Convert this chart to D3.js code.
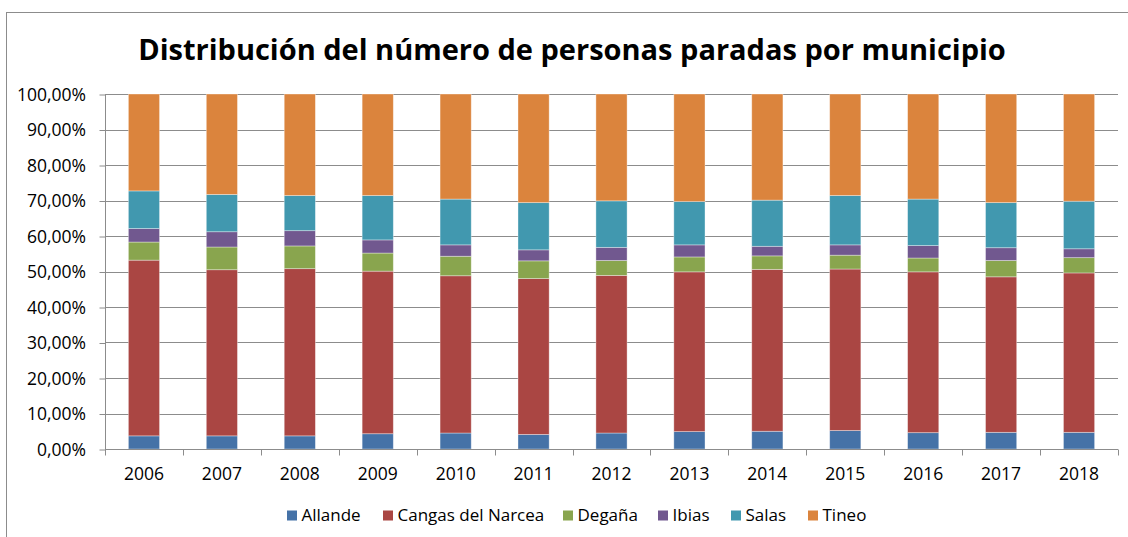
<!DOCTYPE html>
<html>
<head>
<meta charset="utf-8">
<title>Distribución del número de personas paradas por municipio</title>
<script src="https://d3js.org/d3.v7.min.js"></script>
<style>
  body { margin: 0; background: #fff; }
  text { font-family: "Open Sans", Lato, sans-serif; fill: #000; }
</style>
</head>
<body>
<script>
// data (percent of total, per year)
var years = ["2006","2007","2008","2009","2010","2011","2012","2013","2014","2015","2016","2017","2018"];
var municipios = ["Allande","Cangas del Narcea","Degaña","Ibias","Salas","Tineo"];
var allande = [3.7, 3.7, 3.7, 4.3, 4.5, 4.1, 4.5, 4.9, 5.0, 5.2, 4.6, 4.7, 4.7];
var cangas  = [49.5, 46.8, 47.1, 45.8, 44.3, 43.9, 44.4, 45.0, 45.6, 45.5, 45.3, 43.8, 44.9];
var degana  = [5.1, 6.4, 6.4, 5.1, 5.5, 5.0, 4.2, 4.2, 3.8, 3.9, 3.9, 4.6, 4.3];
var ibias   = [3.8, 4.3, 4.3, 3.7, 3.2, 3.1, 3.7, 3.4, 2.7, 2.9, 3.5, 3.6, 2.5];
var salas   = [10.6, 10.5, 9.9, 12.5, 12.9, 13.3, 13.1, 12.2, 13.0, 13.9, 13.1, 12.7, 13.4];
var tineo   = [27.3, 28.3, 28.6, 28.6, 29.6, 30.6, 30.1, 30.3, 29.9, 28.6, 29.6, 30.6, 30.2];
var yTicks = [0, 0.1, 0.2, 0.3, 0.4, 0.5, 0.6, 0.7, 0.8, 0.9, 1];
var colores = ["#4572A7","#AA4643","#89A54E","#71588F","#4198AF","#DB843D"];

var w = 1128, h = 537;
var plotLeft = 105, plotRight = 1118, plotTop = 94, plotBottom = 449;

var svg = d3.select("body").append("svg")
    .attr("width", w)
    .attr("height", h);

// outer chart border (cut off on the right and bottom like the picture)
svg.append("rect")
    .attr("x", 6.5).attr("y", 12.5)
    .attr("width", 1140).attr("height", 560)
    .attr("fill", "none").attr("stroke", "#8c8c8c").attr("stroke-width", 1);

svg.append("text")
    .attr("x", 572).attr("y", 60)
    .attr("text-anchor", "middle")
    .style("font-size", "29px").style("font-weight", "bold")
    .text("Distribución del número de personas paradas por municipio");

// build rows for the stack
var series = [allande, cangas, degana, ibias, salas, tineo];
var rows = years.map(function(y, i) {
    var r = { year: y };
    municipios.forEach(function(m, k) { r[m] = series[k][i] / 100; });
    return r;
});
var stacked = d3.stack().keys(municipios).offset(d3.stackOffsetExpand)(rows);

var x = d3.scaleBand().domain(years).range([plotLeft, plotRight]).paddingInner(0.6).paddingOuter(0.3);
var y = d3.scaleLinear().domain([0, 1]).range([plotBottom, plotTop]);
var color = d3.scaleOrdinal().domain(municipios).range(colores);

var es = d3.formatLocale({ decimal: ",", thousands: ".", grouping: [3], currency: ["", " €"] });
var pct = es.format(".2%");

// gridlines
svg.append("g").selectAll("line")
    .data(yTicks.slice(1))
    .enter().append("line")
    .attr("x1", plotLeft).attr("x2", plotRight)
    .attr("y1", function(d) { return Math.round(y(d)) + 0.5; })
    .attr("y2", function(d) { return Math.round(y(d)) + 0.5; })
    .attr("stroke", "#8c8c8c");

// y axis
var yAxis = svg.append("g")
    .attr("transform", "translate(" + (plotLeft + 0.5) + ",0.5)")
    .call(d3.axisLeft(y).tickValues(yTicks).tickFormat(pct).tickSize(6).tickPadding(13.5));
yAxis.selectAll("path, line").attr("stroke", "#8c8c8c");
yAxis.select(".domain").attr("d", "M0," + plotTop + "V" + plotBottom);
yAxis.selectAll("text").style("font-size", "17.5px").style("font-family", "'Open Sans', sans-serif").attr("fill", "#000");

// bars
svg.append("g").selectAll("g")
    .data(stacked)
    .enter().append("g")
    .attr("fill", function(d) { return color(d.key); })
    .selectAll("rect")
    .data(function(d) { return d; })
    .enter().append("rect")
    .attr("x", function(d) { return x(d.data.year); })
    .attr("y", function(d) { return y(d[1]); })
    .attr("width", x.bandwidth())
    .attr("height", function(d) { return y(d[0]) - y(d[1]); })
    .attr("stroke", "rgba(255,255,255,0.45)")
    .attr("stroke-width", 0.8);

// x axis
var step = x.step();
var xAxis = svg.append("g")
    .attr("transform", "translate(0," + (plotBottom + 0.5) + ")")
    .call(d3.axisBottom(x).tickSize(0).tickPadding(18.5));
xAxis.select(".domain").attr("stroke", "#8c8c8c").attr("d", "M" + plotLeft + ",0H" + plotRight);
xAxis.selectAll("text").style("font-size", "17.5px").style("font-family", "'Open Sans', sans-serif").attr("fill", "#000");
xAxis.selectAll("line.sep")
    .data(d3.range(years.length + 1))
    .enter().append("line")
    .attr("class", "sep")
    .attr("x1", function(i) { return Math.round(plotLeft + i * step) + 0.5; })
    .attr("x2", function(i) { return Math.round(plotLeft + i * step) + 0.5; })
    .attr("y1", 0).attr("y2", 6)
    .attr("stroke", "#8c8c8c");

// legend
var legendX = [287, 383, 563, 658, 731, 808];
var legend = svg.append("g").selectAll("g")
    .data(municipios)
    .enter().append("g")
    .attr("transform", function(d, i) { return "translate(" + legendX[i] + ",510.5)"; });
legend.append("rect")
    .attr("width", 10).attr("height", 10)
    .attr("fill", function(d) { return color(d); });
legend.append("text")
    .attr("x", 14.5).attr("y", 10.2)
    .style("font-size", "17px")
    .text(function(d) { return d; });
</script>
</body>
</html>
